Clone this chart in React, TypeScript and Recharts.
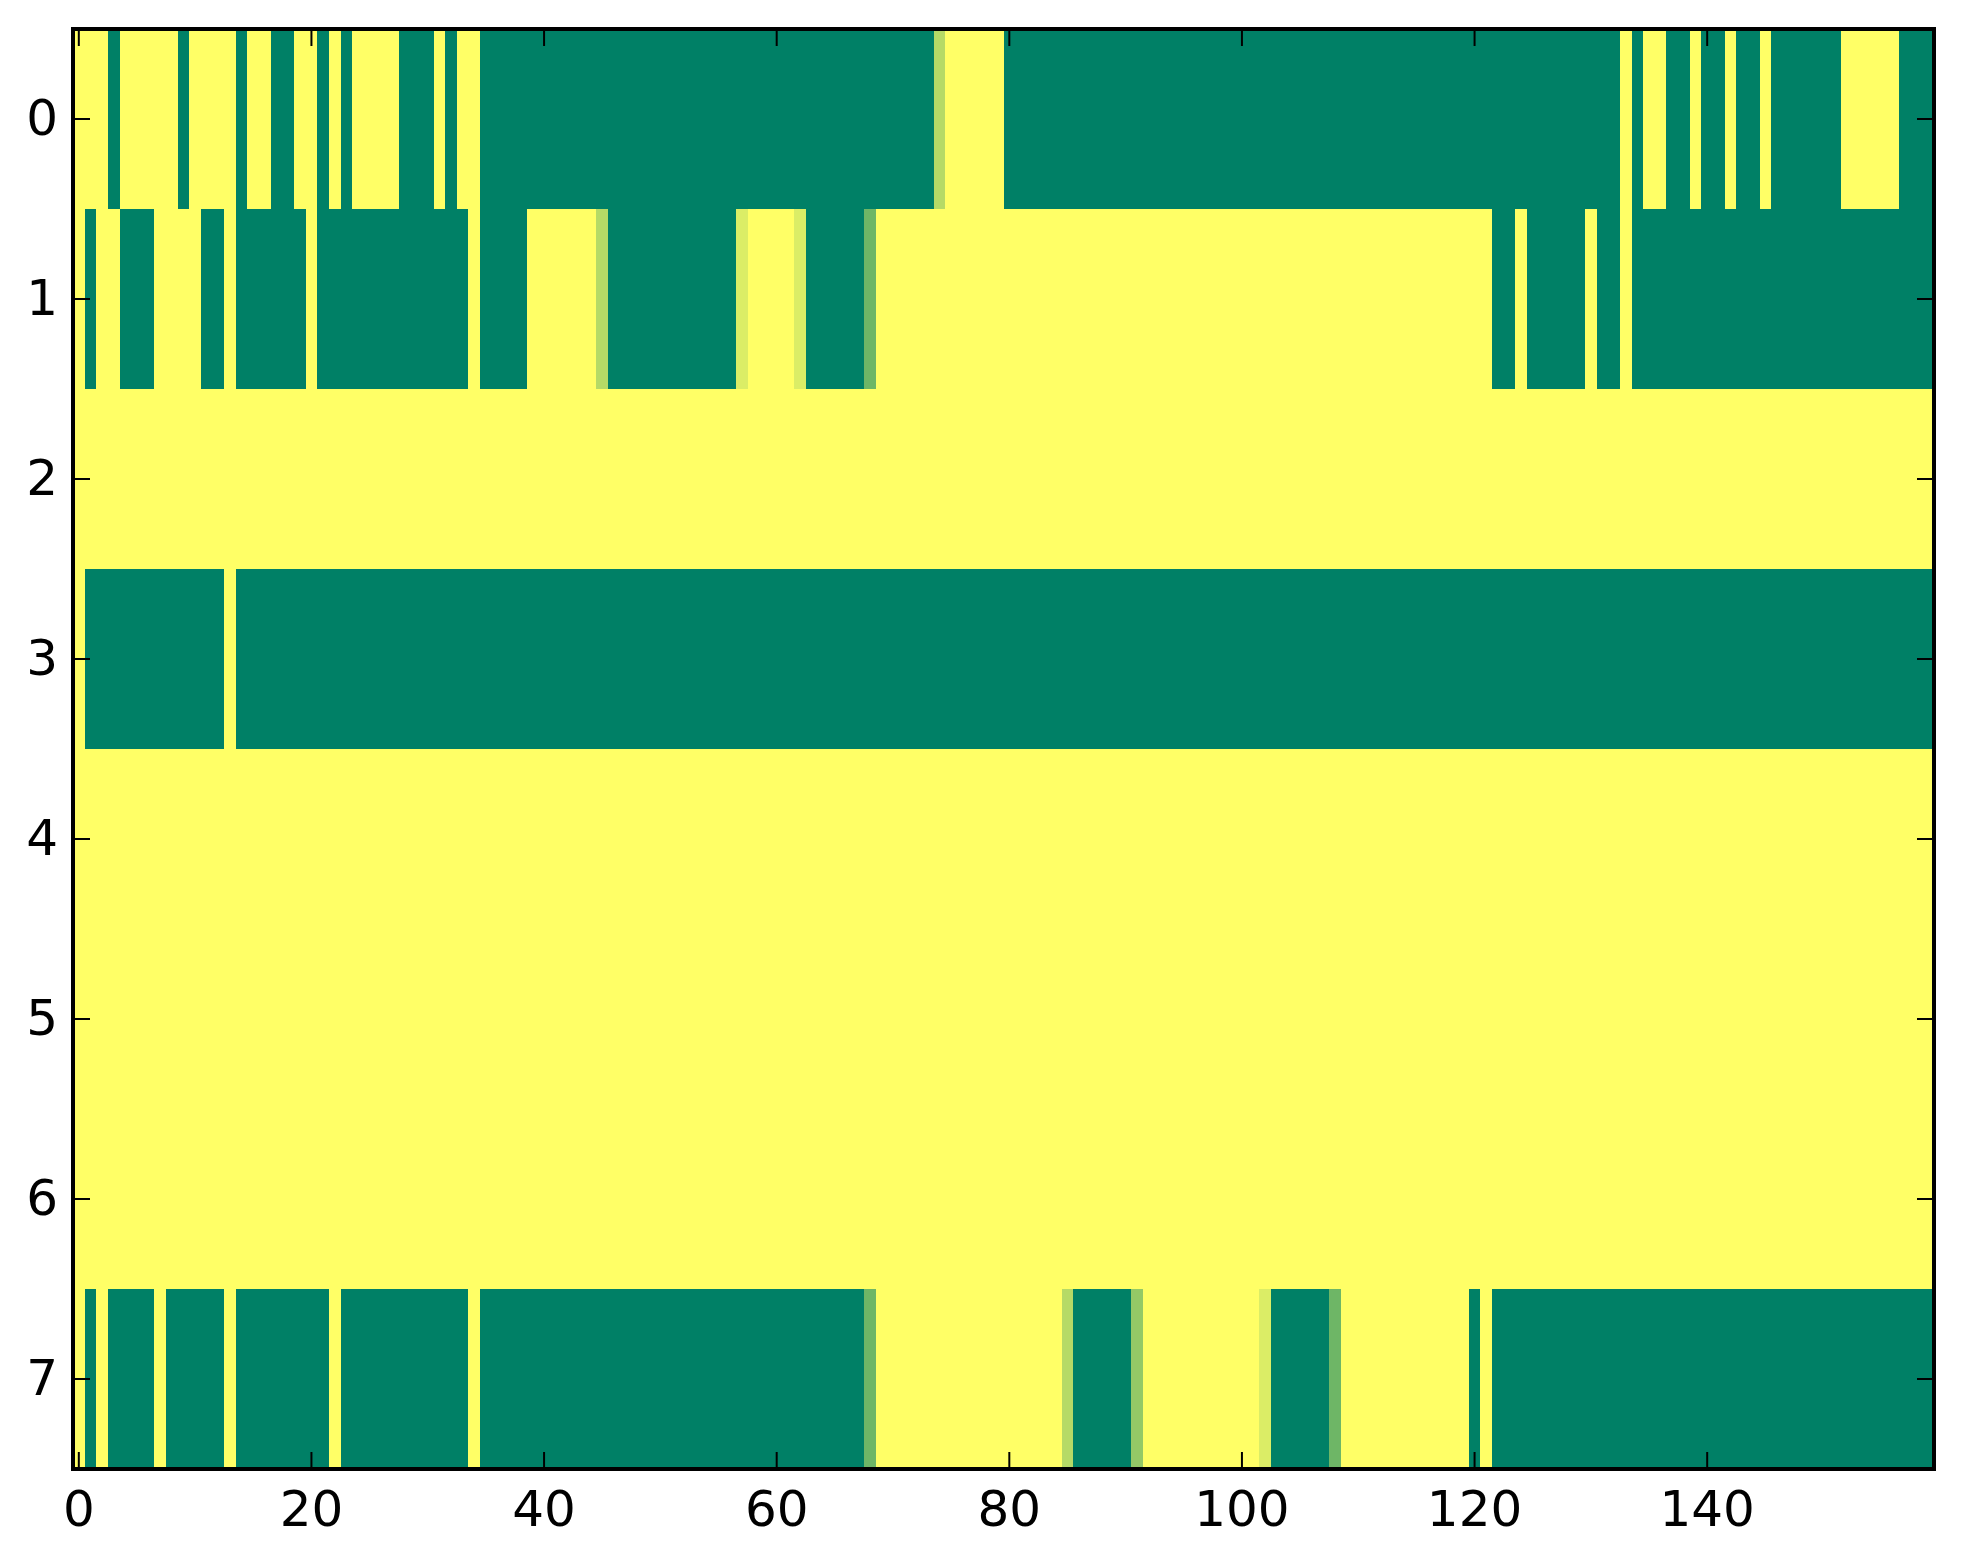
import { ComposedChart, ReferenceArea, XAxis, YAxis } from 'recharts'

// each row of the matrix as [value, run length] pairs, read left to right
const row0: [number, number][] = [
  [1, 3], [0, 1], [1, 5], [0, 1], [1, 4], [0, 1], [1, 2], [0, 2], [1, 2], [0, 1], [1, 1], [0, 1],
  [1, 4], [0, 3], [1, 1], [0, 1], [1, 2], [0, 39], [0.71, 1], [1, 5], [0, 53], [1, 1], [0, 1],
  [1, 2], [0, 2], [1, 1], [0, 2], [1, 1], [0, 2], [1, 1], [0, 6], [1, 5], [0, 3],
]
const row1: [number, number][] = [
  [1, 1], [0, 1], [1, 2], [0, 3], [1, 4], [0, 2], [1, 1], [0, 6], [1, 1], [0, 13], [1, 1], [0, 4],
  [1, 6], [0.71, 1], [0, 11], [0.86, 1], [1, 4], [0.86, 1], [0, 5], [0.43, 1], [1, 53], [0, 2],
  [1, 1], [0, 5], [1, 1], [0, 2], [1, 1], [0, 26],
]
const row2: [number, number][] = [[1, 160]]
const row3: [number, number][] = [[1, 1], [0, 12], [1, 1], [0, 146]]
const row4: [number, number][] = [[1, 160]]
const row5: [number, number][] = [[1, 160]]
const row6: [number, number][] = [[1, 160]]
const row7: [number, number][] = [
  [1, 1], [0, 1], [1, 1], [0, 4], [1, 1], [0, 5], [1, 1], [0, 8], [1, 1], [0, 11], [1, 1], [0, 33],
  [0.43, 1], [1, 16], [0.71, 1], [0, 5], [0.58, 1], [1, 10], [0.86, 1], [0, 5], [0.43, 1], [1, 11],
  [0, 1], [1, 1], [0, 38],
]

const rows = [row0, row1, row2, row3, row4, row5, row6, row7]
const nCols = 160
const yTicks = [0, 1, 2, 3, 4, 5, 6, 7]
const xTicks = [0, 20, 40, 60, 80, 100, 120, 140]

const FONT = 'DejaVu Sans, sans-serif'
const TICK_LEN = 17
const SPINE = { stroke: '#000', strokeWidth: 4, strokeLinecap: 'square' as const }

// matplotlib "summer" colormap
function summer(v: number) {
  const r = Math.round(255 * v)
  const g = Math.round(255 * (0.5 + 0.5 * v))
  return `rgb(${r},${g},102)`
}

type Seg = { row: number; start: number; count: number; value: number }

const segments: Seg[] = []
rows.forEach((runs, row) => {
  let start = 0
  for (const [value, count] of runs) {
    segments.push({ row, start, count, value })
    start += count
  }
})

// one entry per column, so the x axes have data to work from
const columns = Array.from({ length: nCols }, (_, i) => ({ col: i, row: i % rows.length }))

type TickProps = { x?: number; y?: number; payload?: { value?: unknown } }

function BottomTick({ x = 0, y = 0, payload }: TickProps) {
  return (
    <g>
      <line x1={x} x2={x} y1={y} y2={y - TICK_LEN} stroke="#000" strokeWidth={2} />
      <text x={x} y={y + 57} textAnchor="middle" fontSize={50} fontFamily={FONT} fill="#000">
        {String(payload?.value ?? '')}
      </text>
    </g>
  )
}

function TopTick({ x = 0, y = 0 }: TickProps) {
  return <line x1={x} x2={x} y1={y} y2={y + TICK_LEN} stroke="#000" strokeWidth={2} />
}

function LeftTick({ x = 0, y = 0, payload }: TickProps) {
  return (
    <g>
      <line x1={x} x2={x + TICK_LEN} y1={y} y2={y} stroke="#000" strokeWidth={2} />
      <text x={x - 15} y={y + 16} textAnchor="end" fontSize={50} fontFamily={FONT} fill="#000">
        {String(payload?.value ?? '')}
      </text>
    </g>
  )
}

function RightTick({ x = 0, y = 0 }: TickProps) {
  return <line x1={x} x2={x - TICK_LEN} y1={y} y2={y} stroke="#000" strokeWidth={2} />
}

export default function App() {
  return (
    <div style={{ width: 1963, height: 1564 }}>
      <style>{'body{margin:0}'}</style>
      <ComposedChart
        width={1963}
        height={1564}
        data={columns}
        margin={{ top: 0, right: 0, bottom: 0, left: 0 }}
      >
        <ReferenceArea
          xAxisId="b"
          yAxisId="l"
          x1={-0.5}
          x2={nCols - 0.5}
          y1={-0.5}
          y2={rows.length - 0.5}
          fill={summer(1)}
          fillOpacity={1}
          stroke="none"
        />
        {segments.map((s, i) => (
          <ReferenceArea
            key={i}
            xAxisId="b"
            yAxisId="l"
            x1={s.start - 0.5}
            x2={s.start + s.count - 0.5}
            y1={s.row - 0.5}
            y2={s.row + 0.5}
            fill={summer(s.value)}
            fillOpacity={1}
            stroke="none"
            shapeRendering="crispEdges"
          />
        ))}
        <XAxis
          xAxisId="b"
          dataKey="col"
          type="number"
          orientation="bottom"
          domain={[-0.5, nCols - 0.5]}
          ticks={xTicks}
          interval={0}
          allowDataOverflow
          height={95}
          axisLine={SPINE}
          tickLine={false}
          tickSize={0}
          tickMargin={0}
          tick={<BottomTick />}
        />
        <XAxis
          xAxisId="t"
          dataKey="col"
          type="number"
          orientation="top"
          domain={[-0.5, nCols - 0.5]}
          ticks={xTicks}
          interval={0}
          allowDataOverflow
          height={29}
          axisLine={SPINE}
          tickLine={false}
          tickSize={0}
          tickMargin={0}
          tick={<TopTick />}
        />
        <YAxis
          yAxisId="l"
          dataKey="row"
          type="number"
          orientation="left"
          reversed
          domain={[-0.5, rows.length - 0.5]}
          ticks={yTicks}
          interval={0}
          allowDataOverflow
          width={73}
          axisLine={SPINE}
          tickLine={false}
          tickSize={0}
          tickMargin={0}
          tick={<LeftTick />}
        />
        <YAxis
          yAxisId="r"
          dataKey="row"
          type="number"
          orientation="right"
          reversed
          domain={[-0.5, rows.length - 0.5]}
          ticks={yTicks}
          interval={0}
          allowDataOverflow
          width={29}
          axisLine={SPINE}
          tickLine={false}
          tickSize={0}
          tickMargin={0}
          tick={<RightTick />}
        />
      </ComposedChart>
    </div>
  )
}
